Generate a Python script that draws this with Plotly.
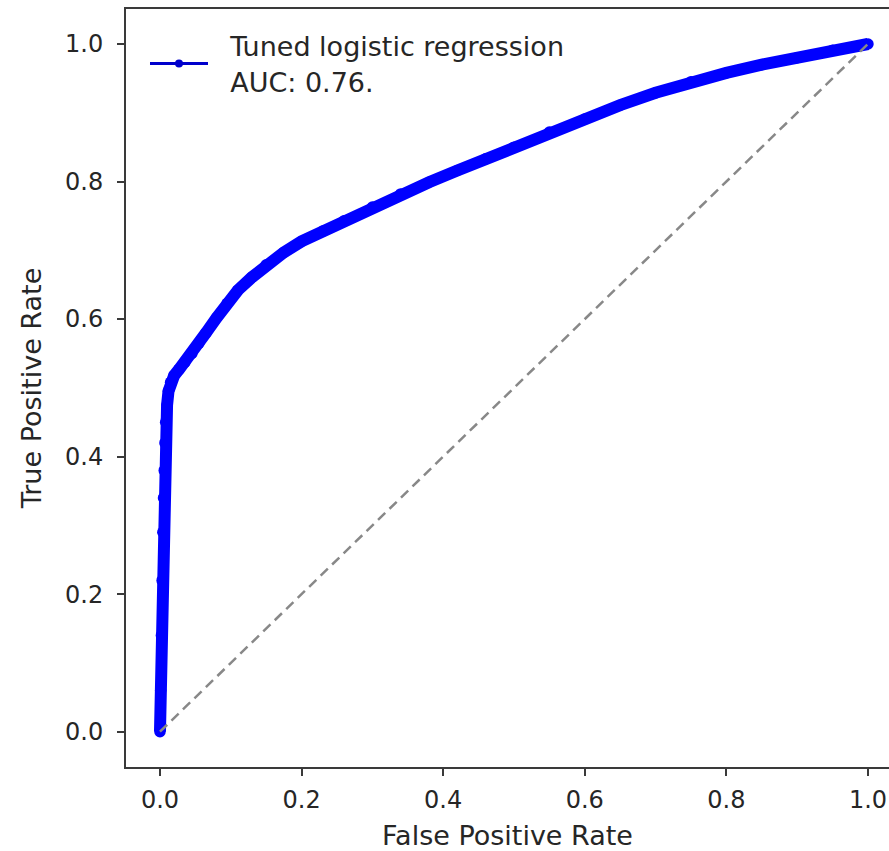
import plotly.graph_objects as go

# ROC curve values
fpr = [0.000, 0.001, 0.002, 0.003, 0.004, 0.005, 0.006, 0.007, 0.008, 0.010,
       0.012, 0.015, 0.020, 0.027, 0.035, 0.045, 0.055, 0.065, 0.080, 0.095,
       0.110, 0.130, 0.150, 0.175, 0.200, 0.230, 0.260, 0.300, 0.340, 0.380,
       0.420, 0.460, 0.500, 0.550, 0.600, 0.650, 0.700, 0.750, 0.800, 0.850,
       0.900, 0.950, 1.000]
tpr = [0.000, 0.060, 0.140, 0.220, 0.290, 0.340, 0.380, 0.420, 0.450, 0.475,
       0.495, 0.508, 0.518, 0.527, 0.537, 0.550, 0.565, 0.580, 0.602, 0.623,
       0.642, 0.661, 0.679, 0.697, 0.713, 0.728, 0.743, 0.763, 0.782, 0.799,
       0.816, 0.833, 0.850, 0.872, 0.891, 0.911, 0.929, 0.945, 0.958, 0.970,
       0.980, 0.991, 1.000]

diag_x = [0.0, 1.0]
diag_y = [0.0, 1.0]

tick_vals = [0.0, 0.2, 0.4, 0.6, 0.8, 1.0]
tick_text = ["0.0", "0.2", "0.4", "0.6", "0.8", "1.0"]

legend_lines = ["Tuned logistic regression", "AUC: 0.76."]
x_title = "False Positive Rate"
y_title = "True Positive Rate"

BLUE = "#0000ff"
FONT = "DejaVu Sans"
TXT = "#262626"
AX = "#3a3a3a"
PAD = "\u00a0\u00a0"

fig = go.Figure()

fig.add_trace(go.Scatter(
    x=fpr, y=tpr, mode="lines+markers",
    line=dict(color=BLUE, width=12),
    marker=dict(color=BLUE, size=11.5),
    showlegend=False, hoverinfo="skip",
))

fig.add_trace(go.Scatter(
    x=diag_x, y=diag_y, mode="lines",
    line=dict(color="#888888", width=2.5, dash="10px,6px"),
    showlegend=False, hoverinfo="skip",
))

# legend entry (thin line with dot, as in the reference legend)
fig.add_trace(go.Scatter(
    x=[None], y=[None], mode="lines+markers",
    name="<br>".join(PAD + s for s in legend_lines),
    line=dict(color="#0000cc", width=3),
    marker=dict(color="#0000cc", size=8),
))

fig.update_layout(
    width=889, height=851,
    margin=dict(l=126, r=0, t=9, b=84, autoexpand=False),
    paper_bgcolor="white", plot_bgcolor="white",
    font=dict(family=FONT, size=24, color=TXT),
    showlegend=True,
    legend=dict(
        x=0.0249, y=0.983, xanchor="left", yanchor="top",
        bgcolor="rgba(255,255,255,0)", borderwidth=0,
        font=dict(family=FONT, size=27, color=TXT),
        itemwidth=58,
    ),
    xaxis=dict(
        range=[-0.048, 1.0297], showgrid=False, zeroline=False,
        tickvals=tick_vals, ticktext=tick_text,
        ticks="outside", ticklen=7, tickwidth=1.5, tickcolor=AX,
        ticklabelstandoff=3,
        showline=True, linecolor=AX, linewidth=2, mirror=True,
        automargin=False,
        title=dict(text=x_title, font=dict(family=FONT, size=27, color=TXT), standoff=19),
        tickfont=dict(family=FONT, size=24, color=TXT),
    ),
    yaxis=dict(
        range=[-0.0513, 1.0509], showgrid=False, zeroline=False,
        tickvals=tick_vals, ticktext=tick_text,
        ticks="outside", ticklen=7, tickwidth=1.5, tickcolor=AX,
        ticklabelstandoff=9,
        showline=True, linecolor=AX, linewidth=2, mirror=False,
        automargin=False,
        title=dict(text=y_title, font=dict(family=FONT, size=27, color=TXT), standoff=16),
        tickfont=dict(family=FONT, size=24, color=TXT),
    ),
)

fig.write_html(
    "out.html",
    config={"displayModeBar": False},
    post_script="document.body.style.margin='0';document.body.style.overflow='hidden';",
)
